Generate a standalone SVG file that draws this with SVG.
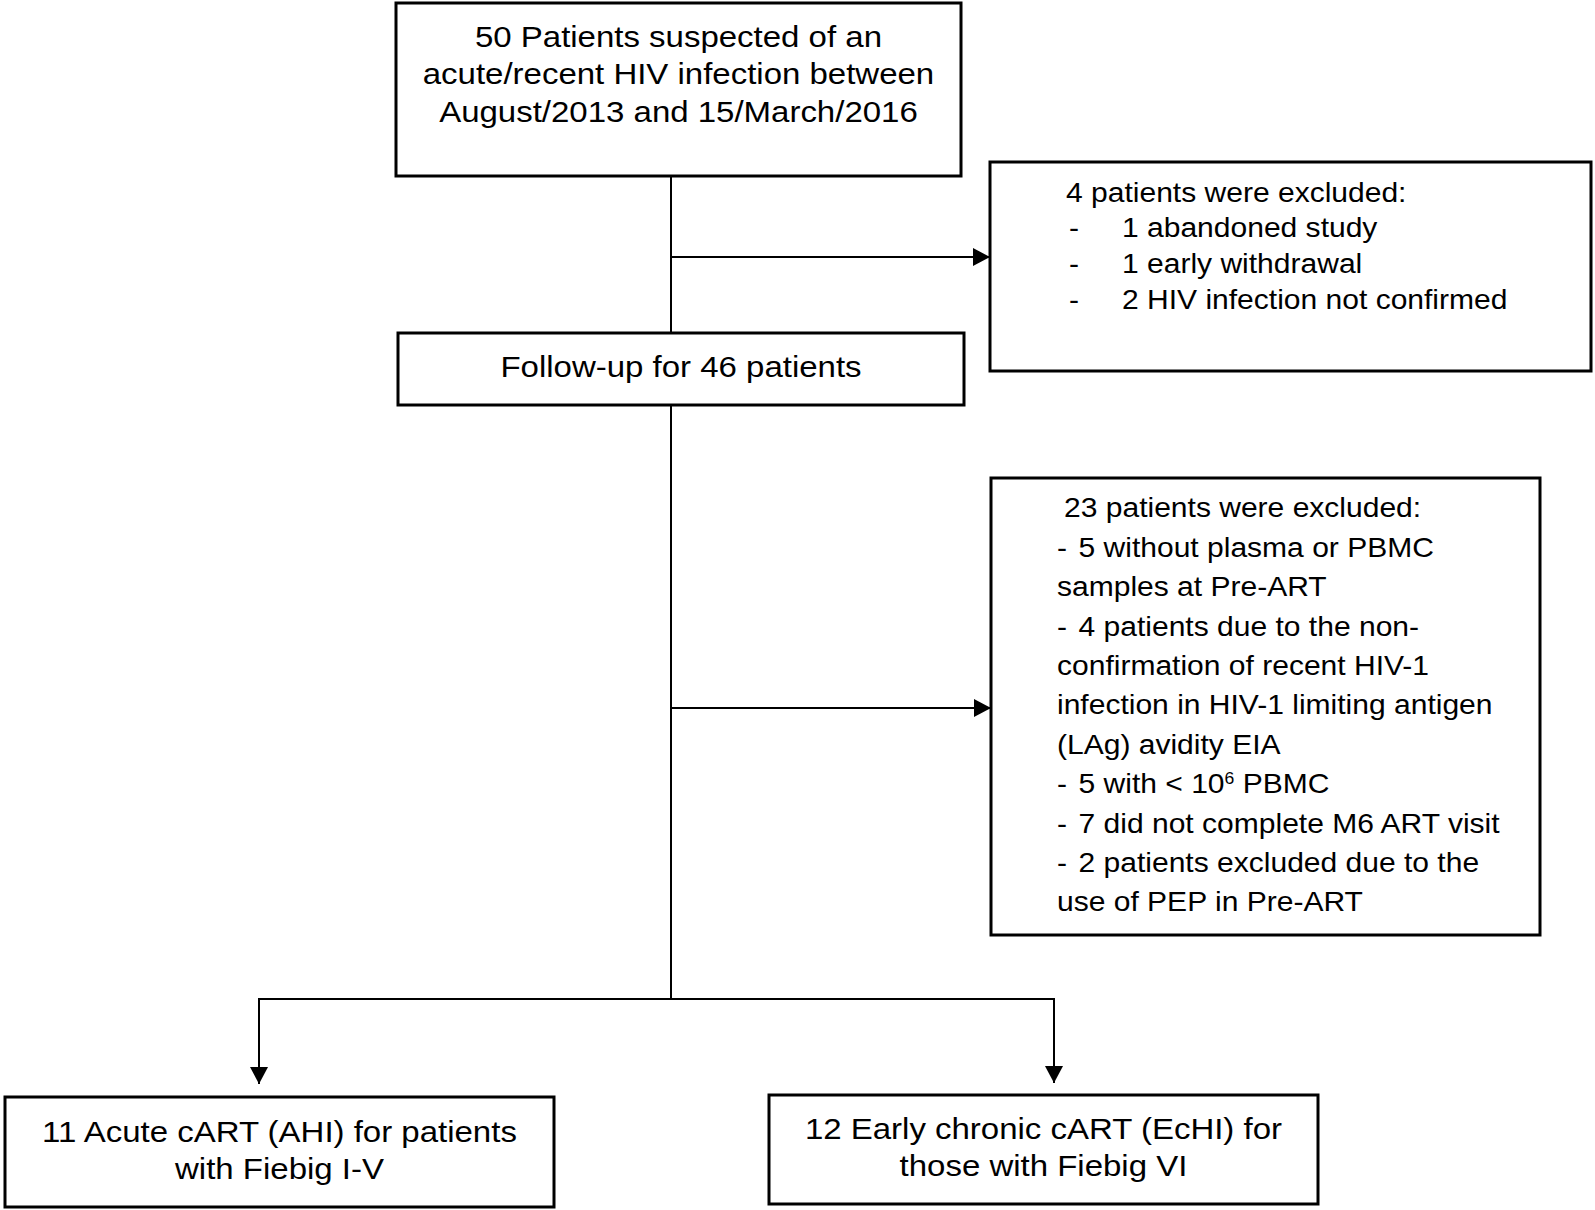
<svg xmlns="http://www.w3.org/2000/svg" width="1595" height="1210" viewBox="0 0 1595 1210">
  <style>
    .box { fill: #ffffff; stroke: #000000; stroke-width: 3; }
    .conn { fill: none; stroke: #000000; stroke-width: 2; }
    .t { font-family: "Liberation Sans", Arial, sans-serif; fill: #000000; }
    .big { font-size: 30px; text-anchor: middle; }
    .small { font-size: 27.3px; }
  </style>
  <defs>
    <marker id="ah" markerUnits="userSpaceOnUse" markerWidth="18" markerHeight="18" refX="17" refY="9" orient="auto">
      <path d="M0,0 L17,9 L0,18 z" fill="#000000"/>
    </marker>
  </defs>
  <rect x="0" y="0" width="1595" height="1210" fill="#ffffff"/>

  <g id="connectors">
    <line class="conn" x1="671" y1="176" x2="671" y2="333"/>
    <line class="conn" x1="671" y1="257" x2="990" y2="257" marker-end="url(#ah)"/>
    <line class="conn" x1="671" y1="405" x2="671" y2="1000"/>
    <line class="conn" x1="671" y1="708" x2="991" y2="708" marker-end="url(#ah)"/>
    <path class="conn" d="M671,999 H259 V1084" marker-end="url(#ah)"/>
    <path class="conn" d="M671,999 H1054 V1083" marker-end="url(#ah)"/>
  </g>

  <g id="node-start">
    <rect class="box" x="396" y="3" width="565" height="173"/>
    <g transform="scale(1.1 1)">
      <text class="t big" x="616.8" y="47">50 Patients suspected of an</text>
      <text class="t big" x="616.8" y="84.5">acute/recent HIV infection between</text>
      <text class="t big" x="616.8" y="122">August/2013 and 15/March/2016</text>
    </g>
  </g>

  <g id="node-excluded1">
    <rect class="box" x="990" y="162" width="601" height="209"/>
    <g transform="scale(1.1 1)">
      <text class="t small" x="969.1" y="202">4 patients were excluded:</text>
      <text class="t small" x="971.8" y="237.5">-</text>
      <text class="t small" x="1020" y="237.5">1 abandoned study</text>
      <text class="t small" x="971.8" y="273">-</text>
      <text class="t small" x="1020" y="273">1 early withdrawal</text>
      <text class="t small" x="971.8" y="309">-</text>
      <text class="t small" x="1020" y="309">2 HIV infection not confirmed</text>
    </g>
  </g>

  <g id="node-followup">
    <rect class="box" x="398" y="333" width="566" height="72"/>
    <g transform="scale(1.1 1)">
      <text class="t big" x="619.1" y="377">Follow-up for 46 patients</text>
    </g>
  </g>

  <g id="node-excluded2">
    <rect class="box" x="991" y="478" width="549" height="457"/>
    <g transform="scale(1.1 1)">
      <text class="t small" x="967.3" y="517.5">23 patients were excluded:</text>
      <text class="t small" x="960.9" y="557">-</text>
      <text class="t small" x="980.5" y="557">5 without plasma or PBMC</text>
      <text class="t small" x="960.9" y="596.5">samples at Pre-ART</text>
      <text class="t small" x="960.9" y="636">-</text>
      <text class="t small" x="980.5" y="636">4 patients due to the non-</text>
      <text class="t small" x="960.9" y="675">confirmation of recent HIV-1</text>
      <text class="t small" x="960.9" y="714.5">infection in HIV-1 limiting antigen</text>
      <text class="t small" x="960.9" y="754">(LAg) avidity EIA</text>
      <text class="t small" x="960.9" y="793">-</text>
      <text class="t small" x="980.5" y="793">5 with &lt; 10<tspan font-size="16" dy="-9">6</tspan><tspan dy="9"> PBMC</tspan></text>
      <text class="t small" x="960.9" y="832.7">-</text>
      <text class="t small" x="980.5" y="832.7">7 did not complete M6 ART visit</text>
      <text class="t small" x="960.9" y="872">-</text>
      <text class="t small" x="980.5" y="872">2 patients excluded due to the</text>
      <text class="t small" x="960.9" y="911.5">use of PEP in Pre-ART</text>
    </g>
  </g>

  <g id="node-acute">
    <rect class="box" x="5" y="1097" width="549" height="110"/>
    <g transform="scale(1.1 1)">
      <text class="t big" x="254.1" y="1142">11 Acute cART (AHI) for patients</text>
      <text class="t big" x="254.1" y="1179.5">with Fiebig I-V</text>
    </g>
  </g>

  <g id="node-early">
    <rect class="box" x="769" y="1095" width="549" height="109"/>
    <g transform="scale(1.1 1)">
      <text class="t big" x="948.6" y="1139">12 Early chronic cART (EcHI) for</text>
      <text class="t big" x="948.6" y="1176.5">those with Fiebig VI</text>
    </g>
  </g>
</svg>
